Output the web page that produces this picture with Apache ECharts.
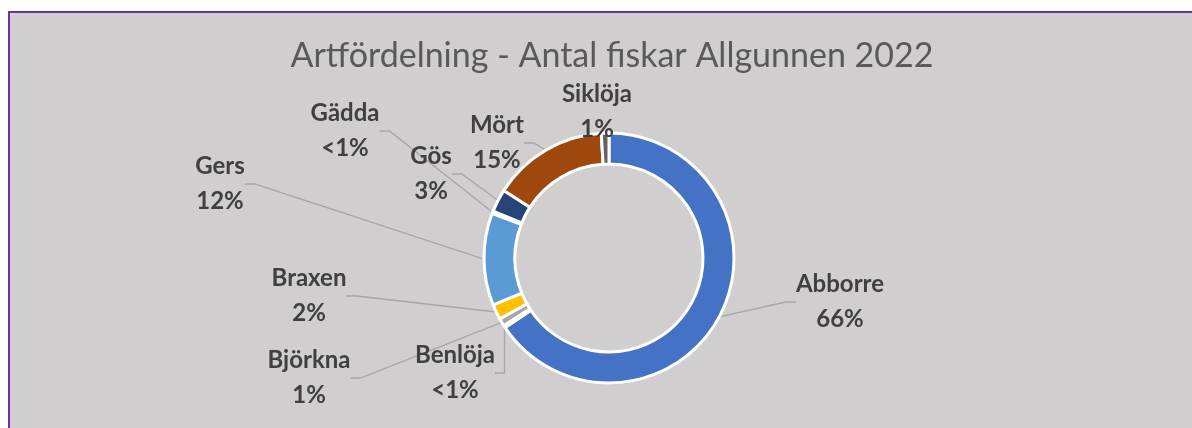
<!DOCTYPE html>
<html>
 <head>
  <title>Artfördelning Allgunnen 2022</title>
  <script src="https://cdn.jsdelivr.net/npm/echarts@6/dist/echarts.min.js"></script>
  <style>
    html, body {
    width: 100%;
    height: 100%;
    margin: 0;
    padding: 0;
    background: #ffffff;
    }
    #frame {
    position: absolute;
    left: 8px;
    top: 11px;
    width: 1184px;
    height: 417px;
    background: #d0cece;
    border-top: 2px solid #7030a0;
    border-left: 2px solid #7030a0;
    box-sizing: border-box;
    }
    #container {
    position: absolute;
    left: 0;
    top: 0;
    width: 1192px;
    height: 428px;
    }
  </style>
 </head>
  <body>
    <div id="frame"></div>
    <div id="container"></div>
    <script>
      // arter i ordning medurs från klockan 12
      const arter = ['Abborre', 'Benlöja', 'Björkna', 'Braxen', 'Gers', 'Gädda', 'Gös', 'Mört', 'Siklöja'];
      // andel i procent (avläst)
      const andel = [66, 0.3, 1, 2, 12, 0.3, 3, 15, 1];
      const farger = ['#4472c4', '#ed7d31', '#a5a5a5', '#ffc000', '#5b9bd5', '#70ad47', '#264478', '#9e480e', '#636363'];

      // var etiketterna står (mitten av textblocket)
      const etikettX = [840, 455, 309, 309, 220, 345, 431, 497, 597];
      const etikettY = [302, 373, 378, 296, 184, 131, 174, 143, 112];

      var chartDom = document.getElementById('container');
      var myChart = echarts.init(chartDom, null, {renderer: 'canvas'});
      var option;

      option = {
        backgroundColor: 'transparent',
        animation: false,
        title: {
          text: 'Artfördelning - Antal fiskar Allgunnen 2022',
          left: 607,
          textAlign: 'center',
          top: 34,
          textStyle: {
            fontFamily: 'Lato',
            fontWeight: 'normal',
            fontSize: 34,
            color: '#595959'
          }
        },
        series: [
          {
            type: 'pie',
            center: [609, 258],
            radius: [94, 125],
            startAngle: 90,
            clockwise: true,
            avoidLabelOverlap: false,
            itemStyle: {
              borderColor: '#ffffff',
              borderWidth: 3
            },
            label: {
              show: true,
              position: 'outside',
              fontFamily: 'Lato',
              fontWeight: 'bold',
              fontSize: 24,
              lineHeight: 35,
              color: '#404040',
              align: 'center',
              formatter: function (p) {
                var pct = p.percent < 0.5 ? '<1%' : Math.round(p.percent) + '%';
                return p.name + '\n' + pct;
              }
            },
            labelLine: {
              show: true,
              length: 10,
              length2: 10,
              lineStyle: { color: '#a6a6a6', width: 1.3 }
            },
            labelLayout: function (params) {
              var i = params.dataIndex;
              return {
                x: etikettX[i],
                y: etikettY[i],
                align: 'center',
                verticalAlign: 'middle'
              };
            },
            data: arter.map(function (n, i) {
              return { name: n, value: andel[i], itemStyle: { color: farger[i] } };
            })
          }
        ]
      };

      option && myChart.setOption(option);
    </script>
  </body>
</html>
